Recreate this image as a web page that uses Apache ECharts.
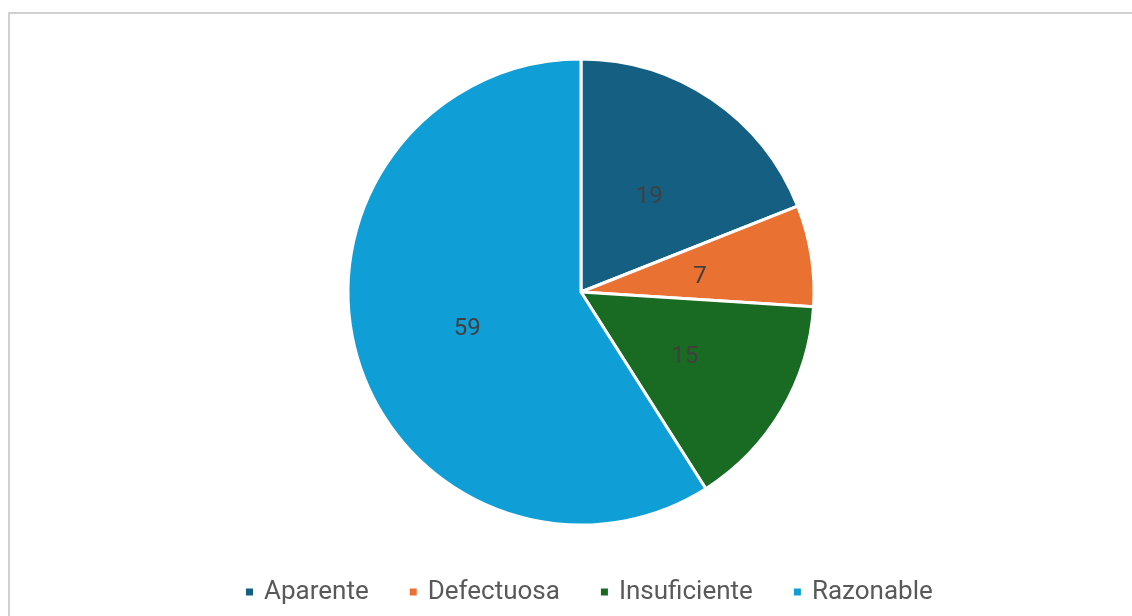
<!DOCTYPE html>
<html>
<head>
<meta charset="utf-8">
<script src="https://cdn.jsdelivr.net/npm/echarts@6/dist/echarts.min.js"></script>
<style>
html,body{margin:0;padding:0;background:#fff;}
#chart{width:1132px;height:616px;}
</style>
</head>
<body>
<div id="chart"></div>
<script>
const categories = ['Aparente', 'Defectuosa', 'Insuficiente', 'Razonable'];
const values = [19, 7, 15, 59];
const colors = ['#156082', '#E97132', '#196B24', '#0F9ED5'];

const chart = echarts.init(document.getElementById('chart'), null, {renderer: 'canvas'});
chart.setOption({
  animation: false,
  backgroundColor: '#ffffff',
  color: colors,
  graphic: [{
    type: 'rect',
    shape: {x: 9, y: 13, width: 1160, height: 700},
    style: {fill: 'none', stroke: '#d0d0d0', lineWidth: 2},
    silent: true
  }],
  legend: {
    data: categories,
    top: 574,
    left: 239,
    icon: 'rect',
    itemWidth: 9,
    itemHeight: 9,
    itemGap: 39,
    textStyle: {fontFamily: 'Roboto', fontSize: 26, color: '#595959', padding: [0, 0, 0, 5]}
  },
  series: [{
    type: 'pie',
    center: [581, 292],
    radius: 233,
    startAngle: 90,
    clockwise: true,
    data: categories.map((c, i) => ({name: c, value: values[i]})),
    itemStyle: {borderColor: '#ffffff', borderWidth: 3},
    label: {
      show: true,
      position: 'inside',
      formatter: '{c}',
      fontFamily: 'Roboto',
      fontSize: 24,
      color: '#404040',
      offset: [1, 4]
    },
    labelLine: {show: false},
    emphasis: {disabled: true}
  }]
});
</script>
</body>
</html>
